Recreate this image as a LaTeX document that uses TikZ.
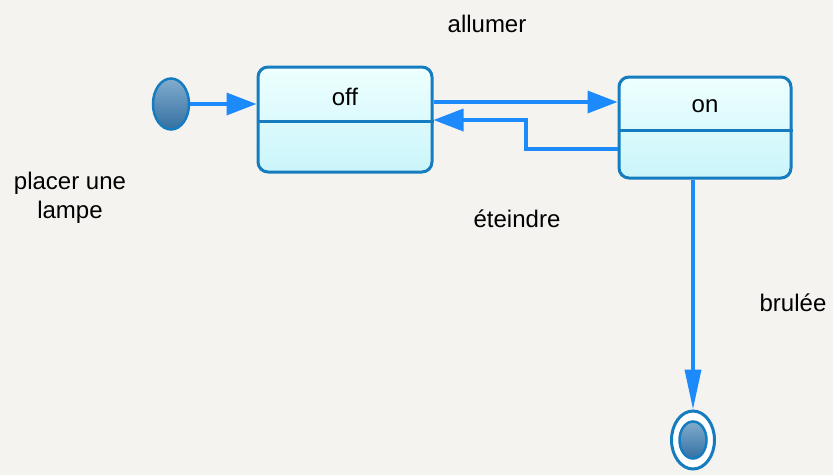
\documentclass[tikz,border=0pt]{standalone}
\usepackage{fontspec}
\setmainfont{Liberation Sans}
\usetikzlibrary{arrows.meta,shapes.geometric}

\definecolor{bgcol}{RGB}{244,243,240}
\definecolor{edgecol}{RGB}{22,124,192}
\definecolor{arrcol}{RGB}{28,138,250}
\definecolor{boxtop}{RGB}{238,255,255}
\definecolor{boxbot}{RGB}{202,245,250}
\definecolor{dottop}{RGB}{130,172,205}
\definecolor{dotbot}{RGB}{52,112,162}

\begin{document}
\begin{tikzpicture}[x=1pt, y=-1pt,
  lbl/.style={font=\fontsize{24}{29}\selectfont, inner sep=0pt},
  state/.style={draw=edgecol, line width=3pt, rounded corners=10pt,
    top color=boxtop, bottom color=boxbot},
  dot/.style={ellipse, draw=edgecol, line width=2.5pt, inner sep=0pt,
    top color=dottop, bottom color=dotbot},
  tr/.style={draw=arrcol, line width=3.5pt,
    -{Triangle[length=30pt, width=22pt]}},
  trdown/.style={draw=arrcol, line width=3.5pt,
    -{Triangle[length=40pt, width=16pt]}}]
  \fill[bgcol] (0,0) rectangle (833,475);
  \useasboundingbox (0,0) rectangle (833,475);

  % states
  \node[state, minimum width=174pt, minimum height=105pt] (off) at (345,119.5) {};
  \node[state, minimum width=172pt, minimum height=101pt] (on) at (705,127.5) {};
  \draw[edgecol, line width=3pt] (off.west |- 0,121) -- (off.east |- 0,121);
  \draw[edgecol, line width=3pt] (on.west |- 0,130) -- (on.east |- 0,130);
  \node[lbl] (offname) at (345,97) {off};
  \node[lbl] (onname) at (705,106) {on};

  % start and end
  \node[dot, minimum width=36pt, minimum height=51pt] (init) at (171,104) {};
  \node[ellipse, draw=edgecol, line width=3pt, fill=white,
    minimum width=43pt, minimum height=58pt] (fin) at (693,440) {};
  \node[dot, minimum width=27pt, minimum height=37pt] (findot) at (fin) {};

  % transitions
  \draw[tr] (init.east) -- (init.east -| off.west);
  \draw[tr] (off.east |- 0,102) -- (on.west |- 0,102);
  \draw[tr] (on.west |- 0,149) -- (526,149) -- (526,120) -- (off.east |- 0,120);
  \draw[trdown] (on.south -| fin.north) -- (fin.north);

  % labels
  \node[lbl] (lplace) at (70,198) [align=center] {placer une\\lampe};
  \node[lbl] (lon) at (487,24) {allumer};
  \node[lbl] (loff) at (517,219) {éteindre};
  \node[lbl] (lburn) at (793,303) {brulée};
\end{tikzpicture}
\end{document}
